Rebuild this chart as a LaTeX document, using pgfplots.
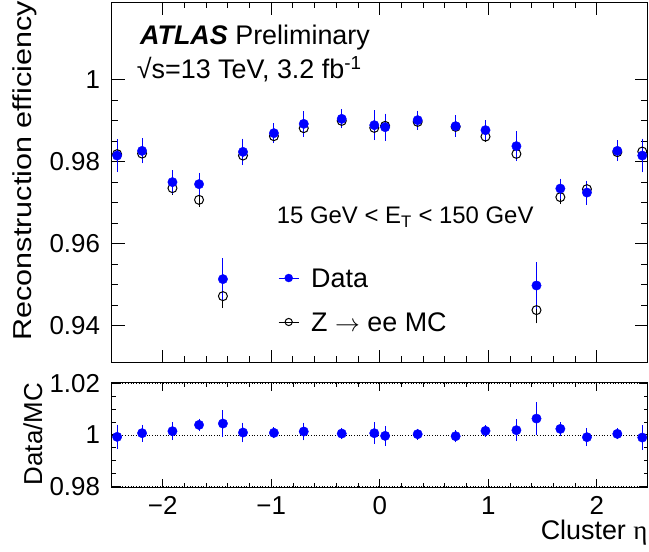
\documentclass[border=0pt]{standalone}
\usepackage{fontspec}
\setmainfont{Liberation Sans}
\newfontfamily\symfont{Liberation Serif}
\usepackage{graphicx}
\usepackage{pgfplots}
\usepackage{pgfplotstable}
\pgfplotsset{compat=1.18}
\definecolor{rblue}{RGB}{0,0,255}
\newcommand{\fs}[1]{\fontsize{#1}{#1}\selectfont}

\pgfplotstableread{
x y ey
-2.42 0.98154 0.0033
-2.19 0.98268 0.0023
-1.91 0.97505 0.0022
-1.665 0.97456 0.0020
-1.445 0.95139 0.0044
-1.26 0.98244 0.0025
-0.975 0.98700 0.0017
-0.70 0.98927 0.0024
-0.35 0.99049 0.0016
-0.05 0.98895 0.0029
0.05 0.98846 0.0026
0.35 0.99017 0.0016
0.70 0.98871 0.0019
0.975 0.98773 0.0017
1.26 0.98383 0.0029
1.445 0.94983 0.0049
1.665 0.97349 0.0017
1.91 0.97251 0.0022
2.19 0.98268 0.0018
2.42 0.98154 0.0034
}\datatab

\pgfplotstableread{
x y ey
-2.42 0.98188 0.0010
-2.19 0.98202 0.0008
-1.91 0.97359 0.0009
-1.665 0.97073 0.0010
-1.445 0.94724 0.0022
-1.26 0.98154 0.0008
-0.975 0.98627 0.0006
-0.70 0.98822 0.0006
-0.35 0.99000 0.0005
-0.05 0.98829 0.0007
0.05 0.98878 0.0007
0.35 0.98976 0.0005
0.70 0.98854 0.0006
0.975 0.98617 0.0006
1.26 0.98195 0.0009
1.445 0.94383 0.0025
1.665 0.97139 0.0010
1.91 0.97334 0.0012
2.19 0.98237 0.0008
2.42 0.98251 0.0010
}\mctab

\pgfplotstableread{
x y ey
-2.42 0.99922 0.0036
-2.19 1.00065 0.0021
-1.91 1.00142 0.0023
-1.665 1.00388 0.0013
-1.445 1.00440 0.0041
-1.26 1.00090 0.0027
-0.975 1.00078 0.0010
-0.70 1.00130 0.0023
-0.35 1.00050 0.0010
-0.05 1.00065 0.0030
0.05 0.99961 0.0026
0.35 1.00026 0.0010
0.70 0.99948 0.0012
0.975 1.00155 0.0012
1.26 1.00181 0.0031
1.445 1.00634 0.0052
1.665 1.00233 0.0015
1.91 0.99909 0.0023
2.19 1.00039 0.0010
2.42 0.99896 0.0037
}\ratiotab

\pgfplotsset{
  rootaxis/.style={
    scale only axis, width=536bp,
    xmin=-2.47, xmax=2.47,
    axis line style={line width=0.8bp},
    tick align=inside, xtick pos=both, ytick pos=both,
    xtick={-2,-1,0,1,2}, minor x tick num=4,
    tick style={line width=0.8bp, black},
    yticklabel style={font=\fs{26}, inner sep=0pt, xshift=-11.5bp},
    xticklabel style={font=\fs{26}, inner sep=0pt, yshift=-9bp},
  },
  datastyle/.style={only marks, mark=*, mark size=4.7bp, color=rblue,
    mark options={fill=rblue, draw=rblue},
    error bars/.cd, y dir=both, y explicit, error mark=-,
    error bar style={line width=1bp, rblue},
    error mark options={mark size=3bp, line width=1bp, rblue}, /pgfplots/.cd},
  mcstyle/.style={only marks, mark=o, mark size=4.5bp, color=black,
    mark options={fill=white, draw=black, line width=1bp},
    error bars/.cd, y dir=both, y explicit, error mark=-,
    error bar style={line width=1bp, black},
    error mark options={mark size=3bp, line width=1bp, black}, /pgfplots/.cd},
}

\begin{document}
\begin{tikzpicture}
\begin{axis}[rootaxis,
  at={(0,0)}, anchor=south west, height=360.7bp,
  ymin=0.931, ymax=1.019,
  xticklabels={},
  ytick={0.94,0.96,0.98,1}, yticklabels={0.94,0.96,0.98,1},
  minor y tick num=3,
  major tick length=13bp, minor tick length=6.5bp,
  ylabel={\scalebox{1.18}[1]{Reconstruction efficiency}},
  every axis y label/.style={at={(axis description cs:-0.1487,0.532)}, rotate=90, anchor=base, font=\fs{26}, inner sep=0pt},
  reverse legend,
  legend cell align=left,
  legend style={at={(axis description cs:0.3103,0.2617)}, anchor=north west, draw=none, fill=none,
    font=\fs{27}, inner sep=0pt, row sep=25bp, column sep=12bp,
    nodes={inner sep=0pt, text height=19bp, text depth=0pt}},
]
\addplot[
  legend image code/.code={
    \draw[black, line width=1bp] (0bp,0bp) -- (20bp,0bp);
    \draw[black, line width=1bp, mark=o, mark size=3.6bp] plot coordinates {(10bp,0bp)};
  }, mcstyle] table[x=x, y=y, y error=ey] {\mctab};
\addlegendentry{Z $\rightarrow$ ee MC}
\addplot[
  legend image code/.code={
    \draw[rblue, line width=1bp] (0bp,0bp) -- (20bp,0bp);
    \draw[rblue, mark=*, mark size=4bp, mark options={fill=rblue}] plot coordinates {(10bp,0bp)};
  }, datastyle] table[x=x, y=y, y error=ey] {\datatab};
\addlegendentry{Data}
\node[anchor=base west, inner sep=0pt, font=\fs{27}] at (axis description cs:0.0528,0.8808) {\textbf{\textit{ATLAS}} Preliminary};
\node[anchor=base west, inner sep=0pt, font=\fs{27}] at (axis description cs:0.0466,0.789) {√s=13 TeV, 3.2 fb\textsuperscript{-1}};
\node[anchor=base west, inner sep=0pt, font=\fs{24}] at (axis description cs:0.3078,0.3865) {15 GeV < E\textsubscript{T} < 150 GeV};
\end{axis}

\begin{axis}[rootaxis,
  at={(0,-20bp)}, anchor=north west, height=104.3bp,
  ymin=0.9797, ymax=1.0203,
  xticklabels={−2,−1,0,1,2},
  ytick={0.98,1,1.02}, yticklabels={0.98,1,1.02},
  minor y tick num=3,
  major tick length=8bp, minor tick length=4bp,
  xlabel={Cluster {\symfont η}},
  every axis x label/.style={at={(axis description cs:1,-0.508)}, anchor=base east, font=\fs{27}, inner sep=0pt},
  ylabel={Data/MC},
  every axis y label/.style={at={(axis description cs:-0.130,0.508)}, rotate=90, anchor=base, font=\fs{26}, inner sep=0pt},
]
\addplot[black, dotted, line width=0.7bp, forget plot] coordinates {(-2.47,1) (2.47,1)};
\addplot[black, dotted, line width=0.7bp, forget plot] coordinates {(-2.47,0.98) (2.47,0.98)};
\addplot[black, dotted, line width=0.7bp, forget plot] coordinates {(-2.47,1.02) (2.47,1.02)};
\addplot[datastyle] table[x=x, y=y, y error=ey] {\ratiotab};
\end{axis}
\pgfresetboundingbox
\useasboundingbox (-111.7bp,-189.3bp) rectangle (537.3bp,362.7bp);
\end{tikzpicture}
\end{document}
